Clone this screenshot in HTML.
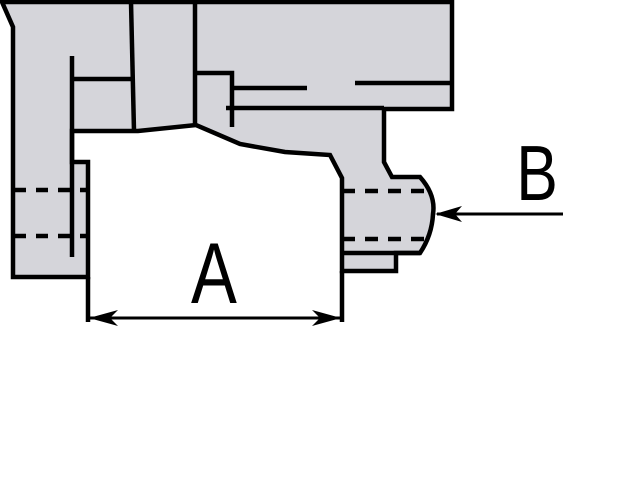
<!DOCTYPE html>
<html><head><style>body{margin:0;background:#fff}svg{display:block}</style></head><body>
<svg width="640" height="480" viewBox="0 0 640 480" xmlns="http://www.w3.org/2000/svg">
<g stroke="#000" stroke-width="4.5" stroke-linejoin="miter" fill="#d5d5da">
<path d="M2,2 L452,2 L452,109 L384,109 L384,162 L392,177 L420,177 Q436,195 433,214 Q432,235 420,253 L396,253 L396,271 L342,271 L342,178 L330,155 L285,152 L240,144 L196,125 L138,131 L72,131 L72,162 L88,162 L88,277 L13,277 L13,27 Z"/>
</g>
<g stroke="#000" stroke-width="4.5" fill="none">
<path d="M342,253 L420,253"/>
<path d="M131,2 L134,131"/>
<path d="M195,2 L195,125"/>
<path d="M72,56 L72,257"/>
<path d="M72,79 L132,79"/>
<path d="M195,73 L232,73 L232,127"/>
<path d="M232,88 L307,88"/>
<path d="M355,83 L452,83"/>
<path d="M226,108 L384,108"/>
<path d="M88,277 L88,322"/>
<path d="M342,271 L342,322"/>
<path d="M14,190 L88,190 M14,236 L88,236" stroke-dasharray="12,10"/>
<path d="M342,191 L428,191 M342,239 L428,239" stroke-dasharray="13,10"/>
</g>
<g stroke="#000" stroke-width="3" fill="none">
<path d="M90,318 L340,318"/>
<path d="M437,214 L563,214"/>
</g>
<g fill="#000">
<path d="M89,318 L118,310 L110,318 L118,326 Z"/>
<path d="M341,318 L312,310 L320,318 L312,326 Z"/>
<path d="M435,214 L462,206 L455,214 L462,222 Z"/>
</g>
<text x="0" y="303" transform="translate(214,0) scale(0.8,1)" font-family="Liberation Sans, sans-serif" font-size="86" text-anchor="middle">A</text>
<text x="0" y="200" transform="translate(537,0) scale(0.8,1)" font-family="Liberation Sans, sans-serif" font-size="78" text-anchor="middle">B</text>
</svg>
</body></html>
